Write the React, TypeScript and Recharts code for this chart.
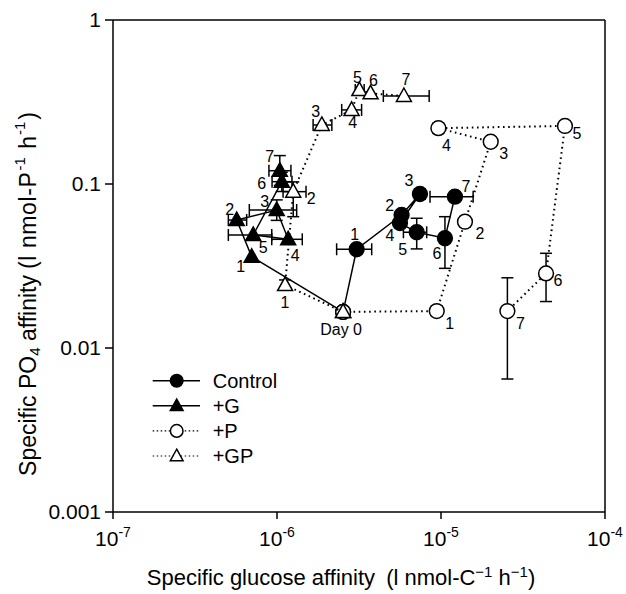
import React from 'react';
import { ScatterChart, Scatter, XAxis, YAxis, ErrorBar, ReferenceLine, Legend, Label } from 'recharts';

const FONT = '"Liberation Sans", Arial, Helvetica, sans-serif';

// ---------- data ----------
const xTicks = [1e-7, 1e-6, 1e-5, 1e-4];
const yTicks = [0.001, 0.01, 0.1, 1];

const controlLabels = ['Day 0', '1', '2', '3', '4', '5', '6', '7'];
const dayLabels = ['', '1', '2', '3', '4', '5', '6', '7'];

// Control
const controlX = [2.53e-6, 3.06e-6, 5.75e-6, 7.44e-6, 5.62e-6, 7.11e-6, 1.057e-5, 1.216e-5];
const controlY = [0.0166, 0.040, 0.0647, 0.0869, 0.0578, 0.0508, 0.0467, 0.0837];
const controlXLo = [null, 2.31e-6, null, 6.9e-6, null, 5.9e-6, null, 8.57e-6];
const controlXHi = [null, 3.78e-6, null, 8.0e-6, null, 8.18e-6, null, 1.57e-5];
const controlYLo = [null, null, null, 0.081, null, 0.0402, 0.0306, null];
const controlYHi = [null, null, null, 0.093, null, 0.0618, 0.0632, null];

// +G
const gX = [2.53e-6, 7.01e-7, 5.68e-7, 9.96e-7, 1.17e-6, 7.16e-7, 1.07e-6, 1.04e-6];
const gY = [0.0166, 0.036, 0.0603, 0.0694, 0.046, 0.0489, 0.1033, 0.1205];
const gXLo = [null, null, 5.05e-7, 6.78e-7, 9.29e-7, 5.05e-7, 9.33e-7, 8.93e-7];
const gXHi = [null, null, 6.53e-7, 1.318e-6, 1.426e-6, 9.29e-7, 1.234e-6, 1.216e-6];
const gYLo = [null, null, null, 0.06, null, null, 0.09, 0.098];
const gYHi = [null, null, null, 0.08, null, null, 0.118, 0.149];

// +P
const pX = [2.53e-6, 9.42e-6, 1.4e-5, 2.01e-5, 9.64e-6, 5.7e-5, 4.37e-5, 2.54e-5];
const pY = [0.0166, 0.0168, 0.0589, 0.181, 0.219, 0.226, 0.0285, 0.0168];
const pXLo = [null, 8.8e-6, 1.31e-5, null, 9.0e-6, null, null, null];
const pXHi = [null, 1.0e-5, 1.5e-5, null, 1.03e-5, null, null, null];
const pYLo = [null, 0.0157, 0.055, null, 0.205, null, 0.0192, 0.00647];
const pYHi = [null, 0.018, 0.063, null, 0.234, null, 0.0378, 0.0268];

// +GP
const gpX = [2.53e-6, 1.12e-6, 1.256e-6, 1.876e-6, 2.85e-6, 3.18e-6, 3.72e-6, 5.94e-6];
const gpY = [0.0166, 0.0242, 0.0898, 0.229, 0.283, 0.374, 0.357, 0.344];
const gpXLo = [null, null, 1.089e-6, 1.66e-6, 2.48e-6, 3.0e-6, null, 4.45e-6];
const gpXHi = [null, null, 1.503e-6, 2.16e-6, 3.28e-6, 3.4e-6, null, 8.47e-6];
const gpYLo = [null, 0.0225, 0.0632, null, null, null, null, null];
const gpYHi = [null, 0.026, 0.103, null, null, null, null, null];

// label placement (offset from the point, px)
const controlLabelOffsets = [[-2, 18], [-2, -15], [-12, -10], [-11, -14], [-10, 12], [-14, 17], [-8, 15], [11, -10]];
const gLabelOffsets = [[0, 0], [-11, 10], [-7, -11], [-12, -9], [7, 16], [10, 13], [-20, 2], [-10, -14]];
const pLabelOffsets = [[0, 0], [13, 12], [15, 12], [13, 12], [8, 17], [12, 8], [12, 7], [13, 12]];
const gpLabelOffsets = [[0, 0], [0, 17], [18, 7], [-6, -13], [1, 13], [-2, -13], [3, -13], [2, -17]];

type N = number | null;
function buildRows(xs: number[], ys: number[], xlo: N[], xhi: N[], ylo: N[], yhi: N[], labels: string[], offs: number[][]) {
  return xs.map((x, i) => ({
    x,
    y: ys[i],
    xe: xlo[i] != null && xhi[i] != null ? [x - (xlo[i] as number), (xhi[i] as number) - x] : null,
    ye: ylo[i] != null && yhi[i] != null ? [ys[i] - (ylo[i] as number), (yhi[i] as number) - ys[i]] : null,
    label: labels[i],
    ldx: offs[i][0],
    ldy: offs[i][1],
  }));
}

const controlRows = buildRows(controlX, controlY, controlXLo, controlXHi, controlYLo, controlYHi, controlLabels, controlLabelOffsets);
const gRows = buildRows(gX, gY, gXLo, gXHi, gYLo, gYHi, dayLabels, gLabelOffsets);
const pRows = buildRows(pX, pY, pXLo, pXHi, pYLo, pYHi, dayLabels, pLabelOffsets);
const gpRows = buildRows(gpX, gpY, gpXLo, gpXHi, gpYLo, gpYHi, dayLabels, gpLabelOffsets);

// ---------- drawing helpers ----------
function marker(kind: string, filled: boolean, cx: number, cy: number, s = 1) {
  const fill = filled ? '#000' : '#fff';
  if (kind === 'circle') {
    return <circle cx={cx} cy={cy} r={7.4 * s} fill={fill} stroke="#000" strokeWidth={1.5} />;
  }
  const d = `M${cx},${cy - 8 * s} L${cx + 7.5 * s},${cy + 5.5 * s} L${cx - 7.5 * s},${cy + 5.5 * s} Z`;
  return <path d={d} fill={fill} stroke="#000" strokeWidth={1.5} strokeLinejoin="miter" />;
}

function makeShape(kind: string, filled: boolean) {
  return (props: any) => {
    const { cx, cy, payload } = props;
    if (cx == null || cy == null) return <g />;
    return (
      <g>
        {marker(kind, filled, cx, cy)}
        {payload && payload.label ? (
          <text
            x={cx + payload.ldx}
            y={cy + payload.ldy}
            textAnchor="middle"
            dominantBaseline="central"
            fontSize={16}
            fontFamily={FONT}
            fill="#000"
          >
            {payload.label}
          </text>
        ) : null}
      </g>
    );
  };
}

const XTick = (props: any) => {
  const { x, y, payload } = props;
  const exp = Math.round(Math.log10(payload.value));
  return (
    <text x={x} y={y + 25} textAnchor="middle" fontSize={21} fontFamily={FONT} fill="#000">
      <tspan>10</tspan>
      <tspan dy={-9} fontSize={14}>{String(exp)}</tspan>
    </text>
  );
};

const YTick = (props: any) => {
  const { x, y, payload } = props;
  return (
    <text x={x - 2} y={y} dy={7} textAnchor="end" fontSize={21} fontFamily={FONT} fill="#000">
      {String(payload.value)}
    </text>
  );
};

const XTitle = (props: any) => {
  const vb = props.viewBox || {};
  const cx = vb.x + vb.width / 2 - 18;
  const by = vb.y + 73;
  return (
    <text x={cx} y={by} textAnchor="middle" fontSize={22} fontFamily={FONT} fill="#000">
      <tspan>Specific glucose affinity </tspan>
      <tspan dx={5}>(l nmol-C</tspan>
      <tspan dy={-8} fontSize={15}>−1</tspan>
      <tspan dy={8}> h</tspan>
      <tspan dy={-8} fontSize={15}>−1</tspan>
      <tspan dy={8}>)</tspan>
    </text>
  );
};

const YTitle = (props: any) => {
  const vb = props.viewBox || {};
  const cx = vb.x - 5;
  const cy = vb.y + vb.height / 2 + 28;
  return (
    <text
      x={cx}
      y={cy}
      transform={`rotate(-90 ${cx} ${cy})`}
      textAnchor="middle"
      dominantBaseline="central"
      fontSize={23}
      fontFamily={FONT}
      fill="#000"
    >
      <tspan>Specific PO</tspan>
      <tspan dy={6} fontSize={15}>4</tspan>
      <tspan dy={-6}> affinity</tspan>
      <tspan dx={6} letterSpacing={0.6}>(l nmol-P</tspan>
      <tspan dx={1} dy={-9} fontSize={15}>-1</tspan>
      <tspan dx={2} dy={9}> h</tspan>
      <tspan dx={1} dy={-9} fontSize={15}>-1</tspan>
      <tspan dx={2} dy={9}>)</tspan>
    </text>
  );
};

const legendItems = [
  { name: 'Control', kind: 'circle', filled: true, dash: undefined as string | undefined },
  { name: '+G', kind: 'triangle', filled: true, dash: undefined as string | undefined },
  { name: '+P', kind: 'circle', filled: false, dash: '1.5 2.5' },
  { name: '+GP', kind: 'triangle', filled: false, dash: '1.5 2.5' },
];

const LegendBox = () => (
  <svg width={160} height={100} style={{ display: 'block' }}>
    {legendItems.map((it, i) => {
      const cy = 12.7 + i * 25.1;
      return (
        <g key={it.name}>
          <line x1={2.7} x2={50} y1={cy} y2={cy} stroke="#000" strokeWidth={it.dash ? 1.2 : 1.5} strokeDasharray={it.dash} />
          {marker(it.kind, it.filled, 26.7, cy, 0.85)}
          <text x={62.7} y={cy} dy={7} fontSize={20} fontFamily={FONT} fill="#000">
            {it.name}
          </text>
        </g>
      );
    })}
  </svg>
);

const solidLine = { stroke: '#000', strokeWidth: 1.5 };
const dottedLine = { stroke: '#000', strokeWidth: 2, strokeDasharray: '1.6 3.6' };

export default function App() {
  return (
    <div style={{ position: 'absolute', left: 0, top: 0, background: '#fff' }}>
      <ScatterChart width={626} height={594} margin={{ top: 20, right: 21, bottom: 32, left: 33 }}>
        <XAxis
          type="number"
          dataKey="x"
          scale="log"
          domain={[1e-7, 1e-4]}
          ticks={xTicks}
          interval={0}
          allowDataOverflow
          height={50}
          axisLine={{ stroke: '#000', strokeWidth: 1.5 }}
          tickLine={{ stroke: '#000', strokeWidth: 1.5 }}
          tickSize={7}
          tick={<XTick />}
        >
          <Label content={XTitle} />
        </XAxis>
        <YAxis
          type="number"
          dataKey="y"
          scale="log"
          domain={[0.001, 1]}
          ticks={yTicks}
          interval={0}
          allowDataOverflow
          width={80}
          axisLine={{ stroke: '#000', strokeWidth: 1.5 }}
          tickLine={{ stroke: '#000', strokeWidth: 1.5 }}
          tickSize={8}
          tick={<YTick />}
        >
          <Label content={YTitle} />
        </YAxis>
        <ReferenceLine x={1e-4} stroke="#000" strokeWidth={1.5} ifOverflow="visible" />
        <ReferenceLine y={1} stroke="#000" strokeWidth={1.5} ifOverflow="visible" />
        <Legend
          layout="vertical"
          align="center"
          verticalAlign="middle"
          content={() => <LegendBox />}
          wrapperStyle={{ position: 'absolute', left: 150, top: 368, width: 160, height: 100 }}
        />
        <Scatter name="Control" data={controlRows} line={solidLine} lineType="joint" shape={makeShape('circle', true)} isAnimationActive={false}>
          <ErrorBar dataKey="xe" direction="x" width={6} stroke="#000" strokeWidth={1.5} />
          <ErrorBar dataKey="ye" direction="y" width={6} stroke="#000" strokeWidth={1.5} />
        </Scatter>
        <Scatter name="+G" data={gRows} line={solidLine} lineType="joint" shape={makeShape('triangle', true)} isAnimationActive={false}>
          <ErrorBar dataKey="xe" direction="x" width={6} stroke="#000" strokeWidth={1.5} />
          <ErrorBar dataKey="ye" direction="y" width={6} stroke="#000" strokeWidth={1.5} />
        </Scatter>
        <Scatter name="+P" data={pRows} line={dottedLine} lineType="joint" shape={makeShape('circle', false)} isAnimationActive={false}>
          <ErrorBar dataKey="xe" direction="x" width={6} stroke="#000" strokeWidth={1.5} />
          <ErrorBar dataKey="ye" direction="y" width={6} stroke="#000" strokeWidth={1.5} />
        </Scatter>
        <Scatter name="+GP" data={gpRows} line={dottedLine} lineType="joint" shape={makeShape('triangle', false)} isAnimationActive={false}>
          <ErrorBar dataKey="xe" direction="x" width={6} stroke="#000" strokeWidth={1.5} />
          <ErrorBar dataKey="ye" direction="y" width={6} stroke="#000" strokeWidth={1.5} />
        </Scatter>
      </ScatterChart>
    </div>
  );
}
